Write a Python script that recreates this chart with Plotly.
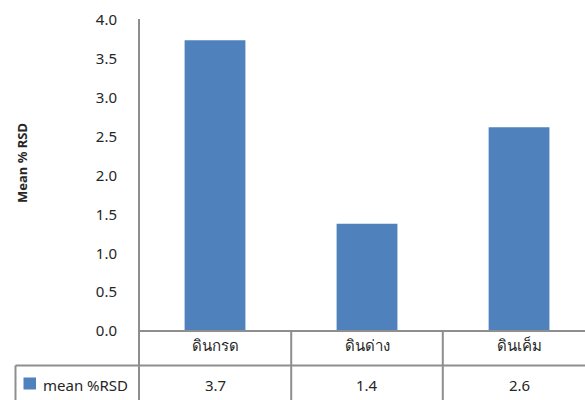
import plotly.graph_objects as go

# Mean %RSD per soil type
categories = ["ดินกรด", "ดินด่าง", "ดินเค็ม"]
mean_rsd = [3.74, 1.38, 2.62]
series_name = "mean %RSD"
y_ticks = [0.0, 0.5, 1.0, 1.5, 2.0, 2.5, 3.0, 3.5, 4.0]

BAR = "#4F81BD"
GRID = "#8E8E8E"
TXT = "#262626"
FONT = "Noto Sans, Tahoma, sans-serif"
FS = 15

fig = go.Figure()
fig.add_trace(go.Bar(
    x=list(range(len(categories))),
    y=mean_rsd,
    width=0.4,
    marker=dict(color=BAR, line=dict(width=0)),
    name=series_name,
    showlegend=False,
))

plot_w = 446.0
plot_h = 311.0
def px(xpix):
    return (xpix - 139.5) / plot_w
def py(ypix):
    return (331.0 - ypix) / plot_h

# data-table row with the values under each category
for i, v in enumerate(mean_rsd):
    fig.add_annotation(x=i, xref="x", y=py(385), yref="paper",
                       xanchor="center", yanchor="middle",
                       text=f"{v:.1f}", showarrow=False,
                       font=dict(size=FS, color=TXT, family=FONT))

# table grid lines
row1 = py(365.5)
bottom = py(410)
lines = [
    dict(x0=px(16), x1=1.05, y0=row1, y1=row1),
    dict(x0=0, x1=0, y0=py(19), y1=bottom),
    dict(x0=px(291.7), x1=px(291.7), y0=0, y1=bottom),
    dict(x0=px(443.3), x1=px(443.3), y0=0, y1=bottom),
    dict(x0=px(16), x1=px(16), y0=row1, y1=bottom),
    dict(x0=0, x1=1.05, y0=0, y1=0),
]
for ln in lines:
    fig.add_shape(type="line", xref="paper", yref="paper",
                  line=dict(color=GRID, width=2), **ln)

# legend key in the table's row header
fig.add_shape(type="rect", xref="paper", yref="paper",
              x0=px(24), x1=px(36.5), y0=py(389.5), y1=py(377.5),
              fillcolor=BAR, line=dict(width=0))
fig.add_annotation(x=px(41), xref="paper", y=py(385), yref="paper",
                   xanchor="left", yanchor="middle",
                   text=series_name, showarrow=False,
                   font=dict(size=FS, color=TXT, family=FONT))

fig.add_annotation(x=px(22), xref="paper", y=py(163.5), yref="paper",
                   xanchor="center", yanchor="middle",
                   text="<b>Mean % RSD</b>", textangle=-90, showarrow=False,
                   font=dict(size=13, color=TXT, family=FONT))

fig.update_layout(
    width=585, height=400,
    margin=dict(l=139, r=0, t=20, b=69, pad=0),
    paper_bgcolor="white", plot_bgcolor="white",
    font=dict(family=FONT, size=FS, color=TXT),
    xaxis=dict(
        range=[-0.5, 2.434],
        tickmode="array",
        tickvals=list(range(len(categories))),
        ticktext=categories,
        ticks="", showline=False, showgrid=False, zeroline=False,
        tickfont=dict(size=FS, color=TXT, family=FONT),
        ticklabelstandoff=4,
        fixedrange=True,
    ),
    yaxis=dict(
        range=[0, 4.0],
        tickmode="array",
        tickvals=y_ticks,
        ticktext=[f"{t:.1f}" for t in y_ticks],
        ticks="", showline=False, showgrid=False, zeroline=False,
        tickfont=dict(size=FS, color=TXT, family=FONT),
        ticklabelstandoff=21,
        fixedrange=True,
    ),
    showlegend=False,
)

fig.write_html("out.html", config={"displayModeBar": False})
